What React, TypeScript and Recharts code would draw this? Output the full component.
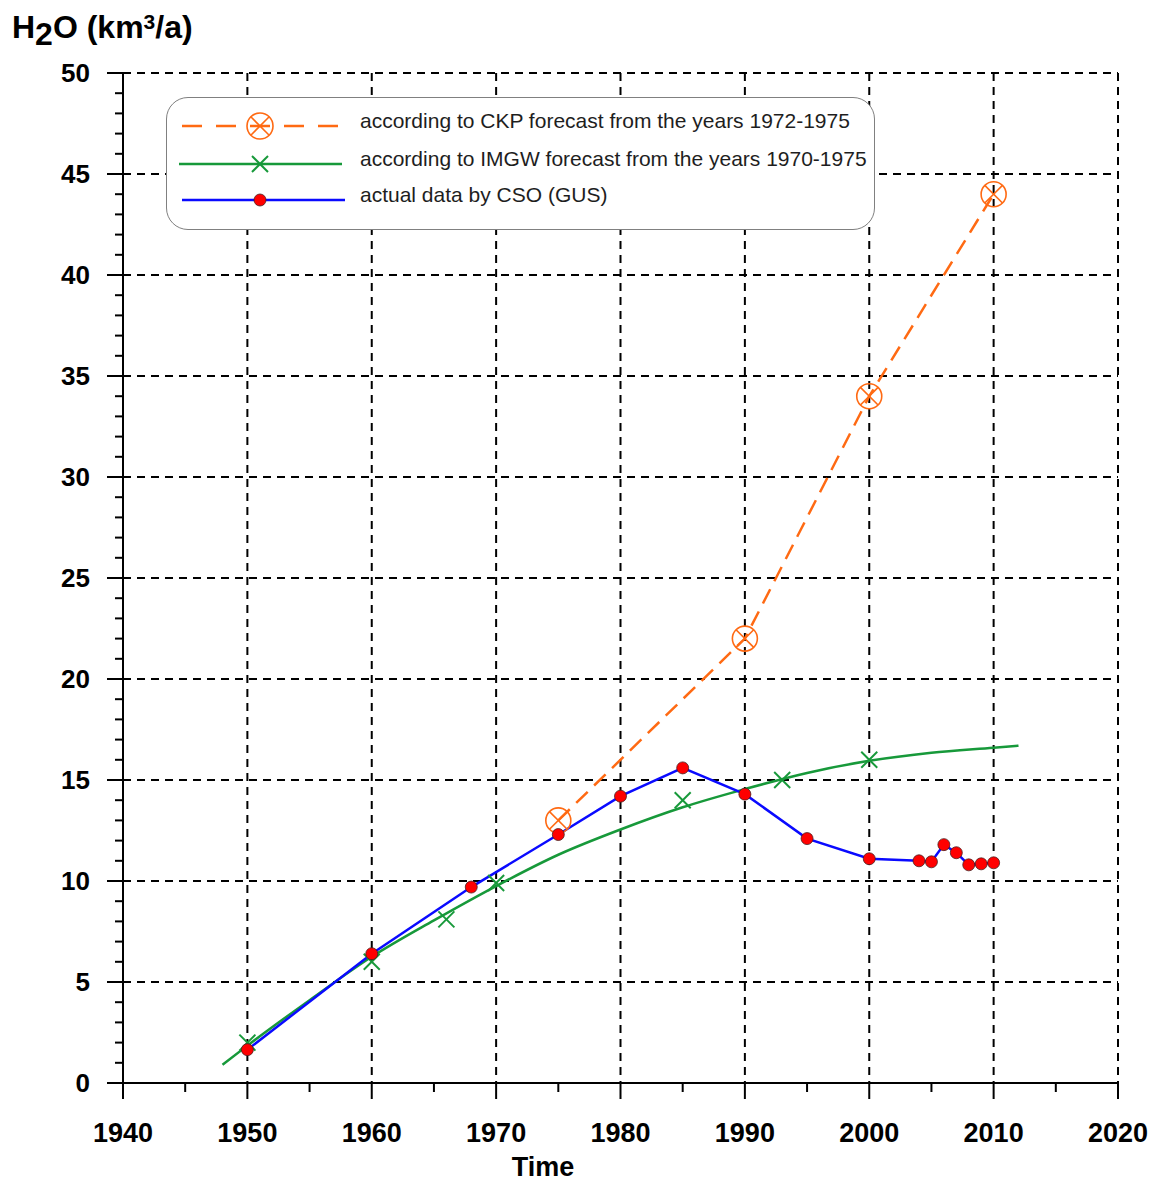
import React from 'react';
import { ComposedChart, Line, XAxis, YAxis, CartesianGrid } from 'recharts';

// ---------------------------------------------------------------------------
// Data
// ---------------------------------------------------------------------------

// CKP forecast from the years 1972-1975
const ckpYears = [1975, 1990, 2000, 2010];
const ckpValues = [13, 22, 34, 44];

// IMGW forecast from the years 1970-1975: the markers ...
const imgwYears = [1950, 1960, 1966, 1970, 1985, 1993, 2000];
const imgwValues = [2.0, 6.0, 8.1, 9.9, 14.0, 15.0, 16.0];

// ... and the smooth trend line drawn through them
const imgwCurveYears = [1948, 1950, 1955, 1960, 1965, 1970, 1975, 1980, 1985, 1990, 1995, 2000, 2005, 2010, 2012];
const imgwCurveValues = [0.9, 1.85, 4.1, 6.25, 8.05, 9.75, 11.3, 12.55, 13.65, 14.55, 15.35, 15.95, 16.35, 16.6, 16.7];

// actual data by CSO (GUS)
const csoYears = [1950, 1960, 1968, 1975, 1980, 1985, 1990, 1995, 2000, 2004, 2005, 2006, 2007, 2008, 2009, 2010];
const csoValues = [1.65, 6.4, 9.7, 12.3, 14.2, 15.6, 14.3, 12.1, 11.1, 11.0, 10.95, 11.8, 11.4, 10.8, 10.85, 10.9];

// axes
const xMajorTicks = [1940, 1950, 1960, 1970, 1980, 1990, 2000, 2010, 2020];
const xTicks = [1940, 1945, 1950, 1955, 1960, 1965, 1970, 1975, 1980, 1985, 1990, 1995, 2000, 2005, 2010, 2015, 2020];
const yMajorTicks = [0, 5, 10, 15, 20, 25, 30, 35, 40, 45, 50];
const yTicks = Array.from({ length: 51 }, (_, i) => i);

const legendLabels = [
  'according to CKP forecast from the years 1972-1975',
  'according to IMGW forecast from the years 1970-1975',
  'actual data by CSO (GUS)',
];

// ---------------------------------------------------------------------------
// Styling
// ---------------------------------------------------------------------------

const FONT = '"Liberation Sans", Arial, Helvetica, sans-serif';
const ORANGE = '#ff6a13';
const GREEN = '#17993a';
const BLUE = '#0a0aff';
const RED = '#ff0000';

const W = 1155;
const H = 1182;
const PLOT_LEFT = 123;
const PLOT_RIGHT = 1118;
const PLOT_TOP = 73;
const PLOT_BOTTOM = 1083;
const Y_AXIS_W = 100;
const X_AXIS_H = 60;

const zip = (xs: number[], ys: number[]) => xs.map((year, i) => ({ year, value: ys[i] }));

const ckpData = zip(ckpYears, ckpValues);
const imgwData = zip(imgwYears, imgwValues);
const imgwCurve = zip(imgwCurveYears, imgwCurveValues);
const csoData = zip(csoYears, csoValues);

// ---------------------------------------------------------------------------
// Markers
// ---------------------------------------------------------------------------

const CrossCircle = ({ cx, cy, r = 12.5 }: { cx: number; cy: number; r?: number }) => {
  const d = r * 0.707;
  return (
    <g>
      <circle cx={cx} cy={cy} r={r} fill="none" stroke={ORANGE} strokeWidth={1.6} />
      <line x1={cx - d} y1={cy - d} x2={cx + d} y2={cy + d} stroke={ORANGE} strokeWidth={1.6} />
      <line x1={cx - d} y1={cy + d} x2={cx + d} y2={cy - d} stroke={ORANGE} strokeWidth={1.6} />
    </g>
  );
};

const Cross = ({ cx, cy, s = 8 }: { cx: number; cy: number; s?: number }) => (
  <g>
    <line x1={cx - s} y1={cy - s} x2={cx + s} y2={cy + s} stroke={GREEN} strokeWidth={2} />
    <line x1={cx - s} y1={cy + s} x2={cx + s} y2={cy - s} stroke={GREEN} strokeWidth={2} />
  </g>
);

const RedDot = ({ cx, cy, r = 6 }: { cx: number; cy: number; r?: number }) => (
  <circle cx={cx} cy={cy} r={r} fill={RED} stroke="#4a2020" strokeWidth={0.8} />
);

// ---------------------------------------------------------------------------
// Ticks (major + minor drawn by hand, labels only on the major ones)
// ---------------------------------------------------------------------------

const XTick = (props: any) => {
  const { x, y, payload } = props;
  const major = xMajorTicks.includes(payload.value);
  return (
    <g>
      <line x1={x} y1={y} x2={x} y2={y + (major ? 16 : 9)} stroke="#000" strokeWidth={2} />
      {major && (
        <text x={x} y={y + 59} textAnchor="middle" fontSize={27} fontWeight="bold" fontFamily={FONT} fill="#000">
          {payload.value}
        </text>
      )}
    </g>
  );
};

const YTick = (props: any) => {
  const { x, y, payload } = props;
  const major = yMajorTicks.includes(payload.value);
  return (
    <g>
      <line x1={x - (major ? 16 : 8)} y1={y} x2={x} y2={y} stroke="#000" strokeWidth={2} />
      {major && (
        <text x={x - 33} y={y + 9} textAnchor="end" fontSize={26} fontWeight="bold" fontFamily={FONT} fill="#000">
          {payload.value}
        </text>
      )}
    </g>
  );
};

// ---------------------------------------------------------------------------
// Legend (plain HTML box over the plot)
// ---------------------------------------------------------------------------

const LegendBox = () => {
  const rows = [126, 164, 200].map((y) => y - 97);
  return (
    <div
      style={{
        position: 'absolute',
        left: 166,
        top: 97,
        width: 709,
        height: 133,
        border: '1px solid #808080',
        borderRadius: 22,
        background: '#fff',
        boxSizing: 'border-box',
      }}
    >
      <svg width={709} height={133} style={{ position: 'absolute', left: -1, top: -1 }}>
        <line x1={16} y1={rows[0]} x2={177} y2={rows[0]} stroke={ORANGE} strokeWidth={2.5} strokeDasharray="20 14" />
        <CrossCircle cx={94} cy={rows[0]} r={13} />
        <line x1={13} y1={rows[1]} x2={176} y2={rows[1]} stroke={GREEN} strokeWidth={2.5} />
        <Cross cx={94} cy={rows[1]} s={8} />
        <line x1={16} y1={rows[2]} x2={179} y2={rows[2]} stroke={BLUE} strokeWidth={2.5} />
        <RedDot cx={94} cy={rows[2]} />
      </svg>
      {legendLabels.map((label, i) => (
        <div
          key={label}
          style={{
            position: 'absolute',
            left: 193,
            top: rows[i] - 19,
            fontFamily: FONT,
            fontSize: 21,
            lineHeight: '26px',
            color: '#1e1e1e',
            whiteSpace: 'nowrap',
          }}
        >
          {label}
        </div>
      ))}
    </div>
  );
};

// ---------------------------------------------------------------------------
// Chart
// ---------------------------------------------------------------------------

export default function App() {
  return (
    <div style={{ position: 'absolute', left: 0, top: 0, width: W, height: H, background: '#fff' }}>
      <ComposedChart
        width={W}
        height={H}
        margin={{
          top: PLOT_TOP,
          right: W - PLOT_RIGHT,
          left: PLOT_LEFT - Y_AXIS_W,
          bottom: H - PLOT_BOTTOM - X_AXIS_H,
        }}
      >
        <CartesianGrid
          stroke="#000"
          strokeWidth={2}
          strokeDasharray="8 6"
          horizontalValues={yMajorTicks}
          verticalValues={xMajorTicks}
        />
        <XAxis
          type="number"
          dataKey="year"
          domain={[1940, 2020]}
          ticks={xTicks}
          interval={0}
          allowDataOverflow
          height={X_AXIS_H}
          tickSize={0}
          tickMargin={0}
          tickLine={false}
          axisLine={{ stroke: '#000', strokeWidth: 2 }}
          tick={<XTick />}
        />
        <YAxis
          type="number"
          dataKey="value"
          domain={[0, 50]}
          ticks={yTicks}
          interval={0}
          allowDataOverflow
          width={Y_AXIS_W}
          tickSize={0}
          tickMargin={0}
          tickLine={false}
          axisLine={{ stroke: '#000', strokeWidth: 2 }}
          tick={<YTick />}
        />
        <Line
          data={ckpData}
          dataKey="value"
          type="linear"
          stroke={ORANGE}
          strokeWidth={2.5}
          strokeDasharray="16 9"
          dot={(p: any) => <CrossCircle key={p.index} cx={p.cx} cy={p.cy} />}
          activeDot={false}
          isAnimationActive={false}
        />
        <Line
          data={imgwCurve}
          dataKey="value"
          type="monotone"
          stroke={GREEN}
          strokeWidth={2.5}
          dot={false}
          activeDot={false}
          isAnimationActive={false}
        />
        <Line
          data={csoData}
          dataKey="value"
          type="linear"
          stroke={BLUE}
          strokeWidth={2.5}
          dot={false}
          activeDot={false}
          isAnimationActive={false}
        />
        <Line
          data={imgwData}
          dataKey="value"
          stroke="none"
          dot={(p: any) => <Cross key={p.index} cx={p.cx} cy={p.cy} />}
          activeDot={false}
          isAnimationActive={false}
        />
        <Line
          data={csoData}
          dataKey="value"
          stroke="none"
          dot={(p: any) => <RedDot key={p.index} cx={p.cx} cy={p.cy} />}
          activeDot={false}
          isAnimationActive={false}
        />
      </ComposedChart>

      <LegendBox />

      <div
        style={{
          position: 'absolute',
          left: 12,
          top: 8,
          fontFamily: FONT,
          fontWeight: 'bold',
          fontSize: 32,
          lineHeight: '38px',
          whiteSpace: 'nowrap',
          color: '#000',
        }}
      >
        H<span style={{ position: 'relative', top: 7 }}>2</span>O (km
        <span style={{ fontSize: 21, position: 'relative', top: -9 }}>3</span>/a)
      </div>

      <div
        style={{
          position: 'absolute',
          left: 443,
          width: 200,
          top: 1154,
          textAlign: 'center',
          fontFamily: FONT,
          fontWeight: 'bold',
          fontSize: 27,
          lineHeight: '27px',
          color: '#000',
        }}
      >
        Time
      </div>
    </div>
  );
}
